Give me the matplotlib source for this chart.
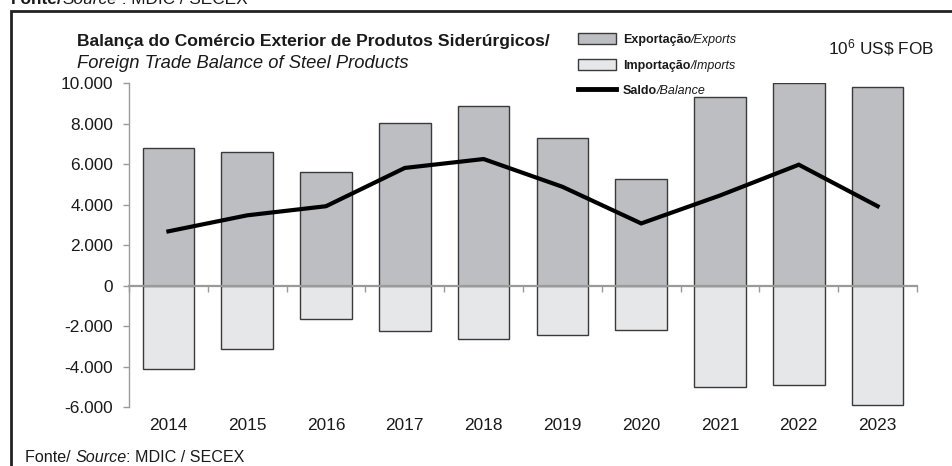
import numpy as np
import matplotlib
matplotlib.use("Agg")
import matplotlib.pyplot as plt
from matplotlib.patches import Patch, Rectangle
from matplotlib.lines import Line2D
from matplotlib.ticker import FuncFormatter, FixedLocator

plt.rcParams["font.family"] = ["Liberation Sans", "DejaVu Sans"]
plt.rcParams["mathtext.fontset"] = "custom"
plt.rcParams["mathtext.rm"] = "Liberation Sans"

# values in 10^6 US$ FOB
years = ["2014", "2015", "2016", "2017", "2018", "2019", "2020", "2021", "2022", "2023"]
exports = [6800, 6590, 5600, 8030, 8880, 7300, 5280, 9310, 10000, 9820]
imports = [-4110, -3110, -1660, -2220, -2620, -2450, -2170, -5020, -4920, -5910]
balance = [2690, 3480, 3930, 5820, 6260, 4890, 3080, 4460, 5980, 3930]
y_ticks = [-6000, -4000, -2000, 0, 2000, 4000, 6000, 8000, 10000]

TXT = "#1a1a1a"
EXP_COLOR = "#bdbec2"
IMP_COLOR = "#e6e7e9"
EDGE = "#3a3a3a"
AXIS_GRAY = "#9a9a9a"

W, H = 952, 466
fig = plt.figure(figsize=(W / 100, H / 100), dpi=100)


def fx(px):
    return px / W


def fy(py):
    return 1 - py / H


ax = fig.add_axes([fx(129), fy(407.3), fx(917) - fx(129), fy(83.3) - fy(407.3)])

x = np.arange(len(years))
ax.bar(x, exports, width=0.655, color=EXP_COLOR, edgecolor=EDGE, linewidth=1, zorder=1)
ax.bar(x, imports, width=0.655, color=IMP_COLOR, edgecolor=EDGE, linewidth=1, zorder=1)
ax.plot(x, balance, color="black", linewidth=3, zorder=3, solid_joinstyle="miter")

ax.set_xlim(-0.5, len(years) - 0.5)
ax.set_ylim(-6000, 10000)

# axes styling: zero line with category separators, gray left spine
for s in ["top", "right"]:
    ax.spines[s].set_visible(False)
ax.spines["bottom"].set_position(("data", 0))
ax.spines["bottom"].set_color(AXIS_GRAY)
ax.spines["bottom"].set_linewidth(1.6)
ax.spines["left"].set_color(AXIS_GRAY)
ax.spines["left"].set_linewidth(1)

ax.set_xticks([])
ax.xaxis.set_minor_locator(FixedLocator(np.arange(-0.5, len(years), 1.0)))
ax.tick_params(axis="x", which="minor", direction="out", length=4, width=1, color=AXIS_GRAY)

ax.set_yticks(y_ticks)
ax.yaxis.set_major_formatter(FuncFormatter(lambda v, p: f"{int(v):,}".replace(",", ".")))
ax.tick_params(axis="y", direction="out", length=4.3, width=1, color=AXIS_GRAY,
               pad=7, labelsize=12.4, labelcolor=TXT)

# year labels along the bottom of the plot area
sec = ax.secondary_xaxis(0)
sec.set_xticks(x, labels=years)
sec.tick_params(length=0, pad=8, labelsize=12.4, labelcolor=TXT)
sec.spines["bottom"].set_visible(False)

# outer frame (runs off the right and bottom edges)
fig.add_artist(Rectangle((fx(10.5), -0.2), 1.2, fy(11) + 0.2, transform=fig.transFigure,
                         fill=False, edgecolor="#222222", linewidth=2))

# titles
fig.text(fx(77), fy(46), "Balança do Comércio Exterior de Produtos Siderúrgicos/",
         fontsize=12.6, fontweight="bold", color=TXT, va="baseline")
fig.text(fx(77), fy(67.5), "Foreign Trade Balance of Steel Products",
         fontsize=13.2, style="italic", color=TXT, va="baseline")
fig.text(fx(828), fy(54), r"$\mathregular{10^6}$ US\$ FOB", fontsize=12.4, color=TXT, va="baseline")

# legend: bold Portuguese label plus italic English suffix
handles = [Patch(facecolor=EXP_COLOR, edgecolor=EDGE, linewidth=1),
           Patch(facecolor=IMP_COLOR, edgecolor=EDGE, linewidth=1),
           Line2D([0], [0], color="black", linewidth=3.5)]
leg = fig.legend(handles, ["Exportação", "Importação", "Saldo"], loc="upper left",
                 bbox_to_anchor=(fx(578), fy(33)), frameon=False, borderpad=0,
                 borderaxespad=0, fontsize=9, handlelength=3.0, handleheight=0.95,
                 handletextpad=0.6, labelspacing=1.05)
suffixes = ["/Exports", "/Imports", "/Balance"]
for t, suf in zip(leg.get_texts(), suffixes):
    t.set_fontweight("bold")
    t.set_color(TXT)
    fig.add_artist(plt.Annotation(suf, xy=(1, 0), xycoords=t, va="bottom", ha="left",
                                  fontsize=9, style="italic", color=TXT, zorder=10))

# source lines (top one cropped by the image edge, as in the original)
top1 = fig.text(fx(10.5), fy(3.5), "Fonte/", fontsize=12.4, fontweight="bold", color=TXT,
                va="baseline")
top2 = fig.add_artist(plt.Annotation("Source", xy=(1, 0), xycoords=top1, va="bottom",
                                     fontsize=12.4, style="italic", color=TXT))
fig.add_artist(plt.Annotation(" : MDIC / SECEX", xy=(1, 0), xycoords=top2, va="bottom",
                              fontsize=12.4, color=TXT))

src1 = fig.text(fx(25), fy(462), "Fonte/ ", fontsize=11.6, color=TXT, va="baseline")
src2 = fig.add_artist(plt.Annotation("Source", xy=(1, 0), xycoords=src1, va="bottom",
                                     fontsize=11.6, style="italic", color=TXT))
fig.add_artist(plt.Annotation(": MDIC / SECEX", xy=(1, 0), xycoords=src2, va="bottom",
                              fontsize=11.6, color=TXT))

fig.savefig("out.png", dpi=100)
plt.close(fig)
